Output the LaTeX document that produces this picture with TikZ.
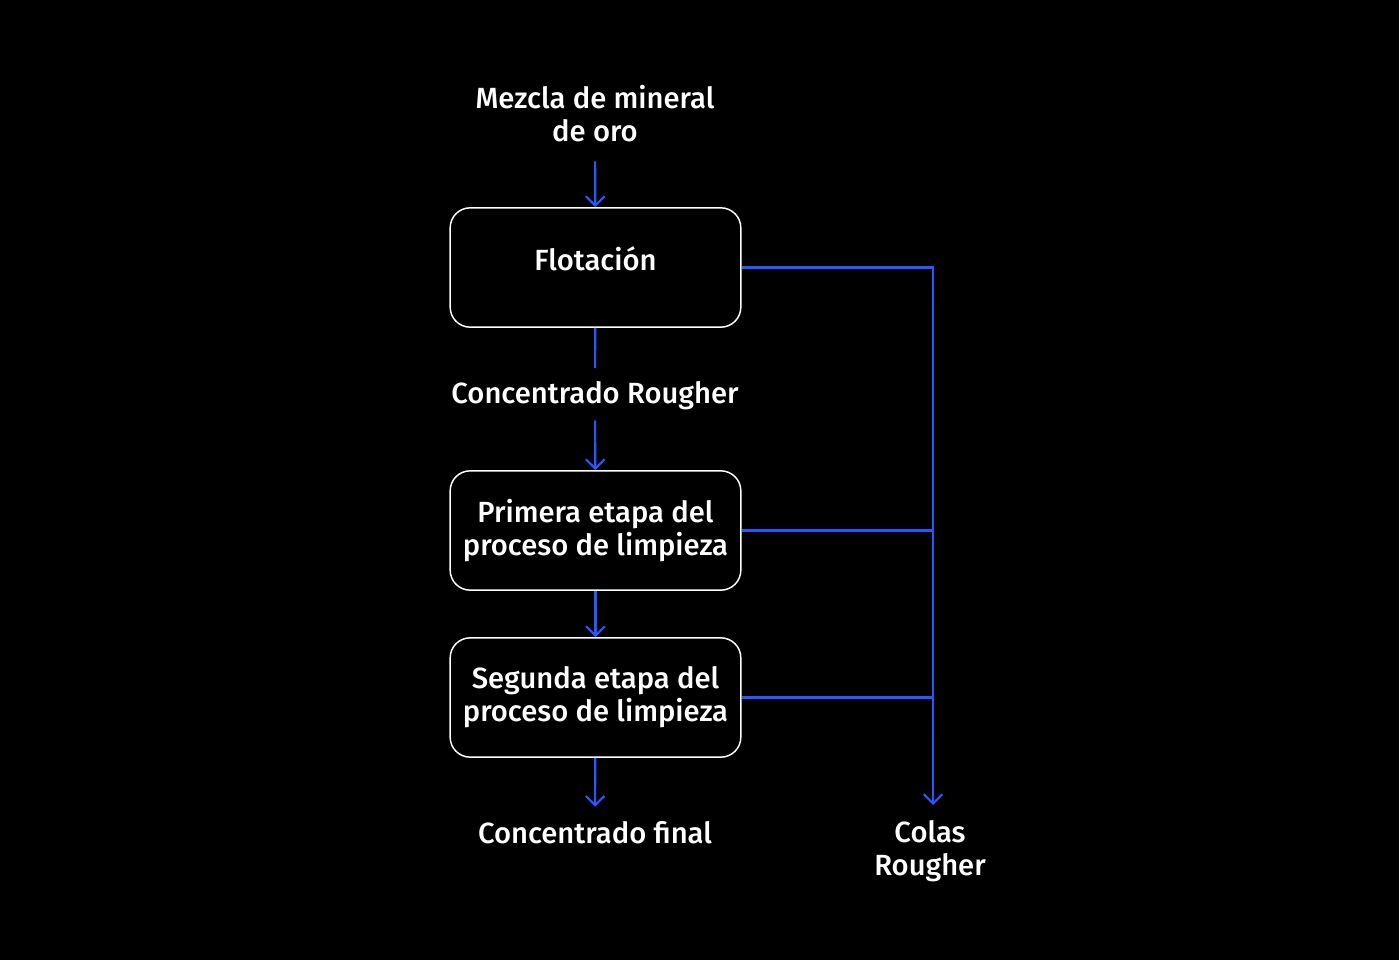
\documentclass[tikz,border=0pt]{standalone}
\usepackage{fontspec}
\setmainfont{Fira Sans}[UprightFont=* Medium]
\usepackage{tikz}
\usetikzlibrary{arrows.meta}
\definecolor{flujoazul}{RGB}{38,88,255}

\begin{document}
\begin{tikzpicture}[x=0.75pt,y=0.75pt,yscale=-1,xscale=1,
  every node/.style={text=white,font=\fontsize{21.9}{24.75}\selectfont,align=center,inner sep=0pt},
  etapa/.style={draw=white,line width=1.1pt,rounded corners=15pt,minimum width=218pt,minimum height=89.5pt},
  flujo/.style={draw=flujoazul,line width=1.6pt},
  colector/.style={flujo,line width=2.2pt},
  flecha/.style={flujo,-{Straight Barb[length=7pt,width=14pt,line width=1.6pt]}}]
%set diagram at 0 and size 1399 x 960
\fill[black] (0,0) rectangle (1399,960);
\useasboundingbox (0,0) rectangle (1399,960);

% Text Node
\node (mezcla) at (595,114) {Mezcla de mineral\\de oro};
% Rounded Rect
\node[etapa,text height=10pt,text depth=6.2pt] (flot) at (595.5,267.5) {Flotación};
% Text Node
\node (conc) at (595,396) {Concentrado Rougher};
% Rounded Rect
\node[etapa] (limp1) at (595.5,530.5) {Primera etapa del\\proceso de limpieza};
% Rounded Rect
\node[etapa] (limp2) at (595.5,697.5) {Segunda etapa del\\proceso de limpieza};
% Text Node
\node (final) at (595,833) {Concentrado final};
\node (colas) at (930,851) {Colas\\Rougher};
\coordinate (colector) at (933,805);

%Straight Lines
\draw[flecha,shorten <=14pt] (mezcla) -- (flot);
\draw[flujo,shorten >=10pt] (flot) -- (conc);
\draw[flecha,shorten <=7.5pt] (conc) -- (limp1);
\draw[flecha] (limp1) -- (limp2);
\draw[flecha,shorten >=11pt] (limp2) -- (final);
%Straight Lines
\draw[colector,-{Straight Barb[length=7pt,width=14pt,line width=1.6pt]}] (flot.east) -- (flot.east -| colector) -- (colector);
\draw[colector] (limp1.east) -- (limp1.east -| colector);
\draw[colector] (limp2.east) -- (limp2.east -| colector);

\end{tikzpicture}
\end{document}
